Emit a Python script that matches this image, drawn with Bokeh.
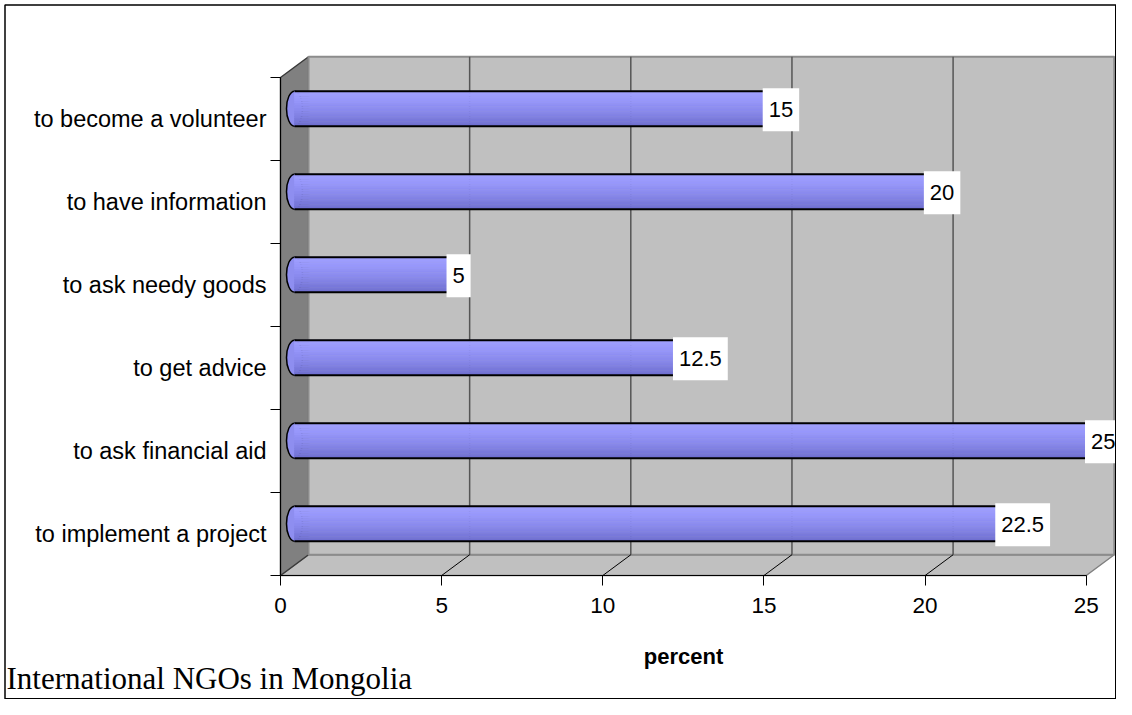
from bokeh.plotting import figure
from bokeh.models import FixedTicker, Range1d, Label, BoxAnnotation, ColumnDataSource, LinearAxis
from bokeh.core.properties import value
from bokeh.embed import file_html
from bokeh.resources import INLINE

# ---- data (bottom to top) ----
categories = ["to implement a project", "to ask financial aid", "to get advice",
              "to ask needy goods", "to have information", "to become a volunteer"]
percent = [22.5, 25, 12.5, 5, 20, 15]
x_ticks = [0, 5, 10, 15, 20, 25]
x_title = "percent"
caption = "International NGOs in Mongolia"

# ---- layout constants (pixels of the canvas) ----
W, H = 1116, 699
PX_X = 32.23          # px per percent
PX_Y = 83.0           # px per category band
X0_PX = 280           # canvas x of value 0
Y0_PX = 575           # canvas y of the floor front edge
X_MAX = x_ticks[-1]
N_CAT = len(categories)
DX = 28.0 / PX_X      # depth offset (x)
DY = 0.25             # depth offset (y)
BAR_HH = 17.5 / PX_Y  # bar half height


def cx(px):
    return (px - X0_PX) / PX_X


def cy(py):
    return (Y0_PX - py) / PX_Y


p = figure(width=W, height=H, x_range=Range1d(cx(0), cx(W)), y_range=Range1d(cy(H), cy(0)),
           output_backend="svg", toolbar_location=None,
           x_axis_location=None, y_axis_location=None,
           min_border_left=0, min_border_right=0, min_border_top=0, min_border_bottom=0)
p.xgrid.visible = False
p.ygrid.visible = False
p.outline_line_color = None
p.background_fill_color = "white"
p.border_fill_color = "white"

# ---- 3D box ----
p.patch([0, X_MAX, X_MAX + DX, DX], [0, 0, DY, DY], fill_color="#c0c0c0",
        line_color="#808080", line_width=1.5)
p.patch([0, 0, DX, DX], [0, N_CAT, N_CAT + DY, DY], fill_color="#808080",
        line_color="#3a3a3a", line_width=1.5)
p.quad(left=[DX], right=[X_MAX + DX], bottom=[DY], top=[N_CAT + DY],
       fill_color="#c0c0c0", line_color="#8c8c8c", line_width=2)
inner = [t for t in x_ticks if 0 < t < X_MAX]
p.segment(x0=[t + DX for t in inner], y0=[DY] * len(inner),
          x1=[t + DX for t in inner], y1=[N_CAT + DY] * len(inner),
          line_color="#555555", line_width=1.5)
p.segment(x0=inner, y0=[0] * len(inner), x1=[t + DX for t in inner], y1=[DY] * len(inner),
          line_color="black", line_width=1)

# ---- cylinder bars ----
stops = [(0.0, (160, 160, 255)), (0.25, (152, 152, 252)), (0.55, (138, 138, 238)),
         (0.8, (124, 124, 222)), (1.0, (110, 110, 206))]


def shade(t):
    for (t0, c0), (t1, c1) in zip(stops[:-1], stops[1:]):
        if t0 <= t <= t1:
            f = (t - t0) / (t1 - t0)
            return "#%02x%02x%02x" % tuple(int(round(a + (b - a) * f)) for a, b in zip(c0, c1))
    return "#%02x%02x%02x" % stops[-1][1]


yc = [i + 0.5 + DY / 2 for i in range(N_CAT)]
NS = 14
st = dict(left=[], right=[], top=[], bottom=[], color=[])
for y, v in zip(yc, percent):
    for j in range(NS):
        top = y + BAR_HH - j * 2 * BAR_HH / NS
        st["left"].append(DX / 2)
        st["right"].append(v + DX / 2)
        st["top"].append(top)
        st["bottom"].append(top - 2 * BAR_HH / NS)
        st["color"].append(shade((j + 0.5) / NS))

p.ellipse(x=[DX / 2] * N_CAT, y=yc, width=16, height=35, width_units="screen",
          height_units="screen", fill_color="#8e8ef0", line_color="black", line_width=1.5)
p.quad(left="left", right="right", top="top", bottom="bottom", fill_color="color",
       line_color="color", line_width=0.6, source=ColumnDataSource(st))
p.segment(x0=[DX / 2] * N_CAT, y0=[y + BAR_HH for y in yc],
          x1=[v + DX / 2 for v in percent], y1=[y + BAR_HH for y in yc],
          line_color="black", line_width=2)
p.segment(x0=[DX / 2] * N_CAT, y0=[y - BAR_HH for y in yc],
          x1=[v + DX / 2 for v in percent], y1=[y - BAR_HH for y in yc],
          line_color="black", line_width=2)

# ---- value labels ----
p.text(x=[v + DX / 2 for v in percent], y=yc, text=[f"{v:g}" for v in percent],
       x_offset=3, y_offset=1, anchor="center", text_align="center", text_baseline="middle",
       text_font=value("Liberation Sans"), text_font_size="22px", text_color="black",
       background_fill_color="white", padding=(6, 14))

# ---- axes (fixed at the front edges of the box) ----
xa = LinearAxis(fixed_location=0)
xa.ticker = FixedTicker(ticks=x_ticks)
xa.bounds = (0, X_MAX)
xa.axis_line_color = "black"
xa.major_tick_line_color = "black"
xa.major_tick_out = 10
xa.major_tick_in = 0
xa.minor_tick_line_color = None
xa.minor_tick_out = 0
xa.major_label_text_font = "Liberation Sans"
xa.major_label_text_font_size = "22.5px"
xa.major_label_text_color = "black"
xa.major_label_standoff = 12
xa.axis_label = x_title
xa.axis_label_text_font = "Liberation Sans"
xa.axis_label_text_font_size = "22px"
xa.axis_label_text_font_style = "bold"
xa.axis_label_text_color = "black"
xa.axis_label_standoff = 28
p.add_layout(xa, "below")

ya = LinearAxis(fixed_location=0)
ya.ticker = FixedTicker(ticks=[i + 0.5 for i in range(N_CAT)], minor_ticks=list(range(N_CAT + 1)))
ya.bounds = (0, N_CAT)
ya.axis_line_color = "black"
ya.major_tick_line_color = None
ya.major_tick_out = 0
ya.major_tick_in = 0
ya.minor_tick_line_color = "black"
ya.minor_tick_out = 10
ya.minor_tick_in = 0
ya.major_label_overrides = {i + 0.5: c for i, c in enumerate(categories)}
ya.major_label_text_font = "Liberation Sans"
ya.major_label_text_font_size = "23.5px"
ya.major_label_text_color = "black"
ya.major_label_standoff = 4
p.add_layout(ya, "left")

# ---- caption and outer border ----
p.add_layout(Label(x=cx(6), y=cy(678), text=caption, text_font="Liberation Serif",
                   text_font_size="31px", text_color="black",
                   text_baseline="alphabetic", text_align="left"))
p.add_layout(BoxAnnotation(left=cx(4.5), right=cx(W - 0.75), top=cy(4.5), bottom=cy(H - 0.75),
                           fill_alpha=0, line_color="black", line_width=1.5, line_alpha=1))

open("out.html", "w").write(file_html(p, INLINE))
